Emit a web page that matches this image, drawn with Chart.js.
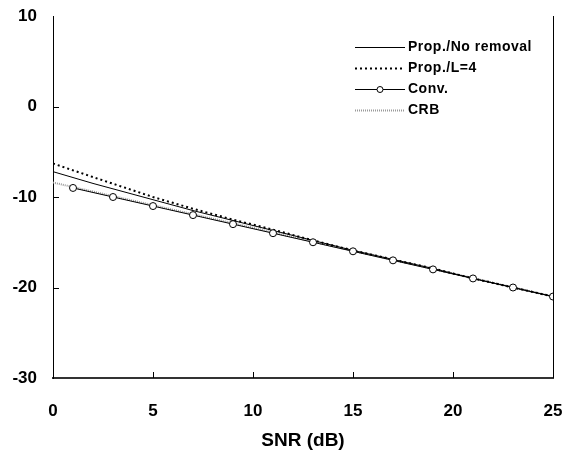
<!DOCTYPE html>
<html>
<head>
<meta charset="utf-8">
<script src="https://cdn.jsdelivr.net/npm/chart.js@4/dist/chart.umd.min.js"></script>
<style>
  html, body { margin: 0; padding: 0; background: #fff; }
  #wrap { width: 578px; height: 456px; }
</style>
</head>
<body>
<div id="wrap"><canvas id="grafico" width="578" height="456"></canvas></div>
<script>
// valores
var propX = [0, 2, 5, 7, 9, 11, 13, 15, 17, 19, 21, 23, 25];
var propNoRemoval = [-7.2, -8.5, -10.3, -11.5, -12.6, -13.7, -14.8, -15.9, -16.9, -17.9, -19.0, -20.0, -21.0];
var propL4 = [-6.3, -7.8, -10.0, -11.3, -12.5, -13.6, -14.8, -15.9, -16.9, -17.9, -19.0, -20.0, -21.0];
var convX = [1, 3, 5, 7, 9, 11, 13, 15, 17, 19, 21, 23, 25];
var conv = [-9, -10, -11, -12, -13, -14, -15, -16, -17, -18, -19, -20, -21];
var crbX = [0, 5, 10, 15, 20, 25];
var crb = [-8.4, -10.9, -13.4, -15.95, -18.45, -21.0];
var xTicks = [0, 5, 10, 15, 20, 25];
var yTicks = [10, 0, -10, -20, -30];

function pontos(xs, ys){
    return xs.map(function(x, i){ return {x: x, y: ys[i]} })
}

var fonte = '"Liberation Sans", Arial, sans-serif';

// ticks para dentro, borda direita e legenda
var extras = {
    id: 'extras',
    afterDraw: function(chart){
        var ctx = chart.ctx;
        var a = chart.chartArea;
        var sx = chart.scales.x, sy = chart.scales.y;
        ctx.save();
        ctx.strokeStyle = '#000';
        ctx.lineWidth = 1;
        ctx.beginPath();
        ctx.moveTo(a.right + 0.5, a.top);
        ctx.lineTo(a.right + 0.5, a.bottom);
        yTicks.forEach(function(v){
            if (v <= -30 || v >= 10) return;
            var py = Math.round(sy.getPixelForValue(v)) + 0.5;
            ctx.moveTo(a.left, py);
            ctx.lineTo(a.left + 6, py);
        });
        xTicks.forEach(function(v){
            if (v <= 0 || v >= 25) return;
            var px = Math.round(sx.getPixelForValue(v)) + 0.5;
            ctx.moveTo(px, a.bottom);
            ctx.lineTo(px, a.bottom - 6);
        });
        ctx.stroke();

        // legenda
        var linhas = [47, 68, 89, 110];
        var x0 = 355, x1 = 405;
        ctx.font = 'bold 14px ' + fonte;
        ctx.letterSpacing = '0.5px';
        ctx.fillStyle = '#000';
        ctx.textBaseline = 'middle';
        var ordem = [1, 2, 3, 0];
        ordem.forEach(function(di, i){
            var ds = chart.data.datasets[di];
            var y = linhas[i] + 0.5;
            ctx.save();
            ctx.strokeStyle = ds.borderColor;
            ctx.lineWidth = ds.borderWidth;
            ctx.setLineDash(ds.borderDash || []);
            ctx.beginPath();
            ctx.moveTo(x0, y);
            ctx.lineTo(x1, y);
            ctx.stroke();
            ctx.restore();
            if (ds.pointRadius > 0) {
                ctx.beginPath();
                ctx.arc((x0 + x1) / 2, y, 3, 0, Math.PI * 2);
                ctx.fillStyle = '#fff';
                ctx.fill();
                ctx.strokeStyle = '#000';
                ctx.lineWidth = 1;
                ctx.stroke();
                ctx.fillStyle = '#000';
            }
            ctx.fillText(ds.label, x1 + 3, linhas[i]);
        });
        ctx.restore();
    }
};

var grafico = document.getElementById('grafico').getContext('2d');
var chart = new Chart(grafico, {
    type: 'line',
    data: {
        datasets: [{
            label: 'CRB',
            data: pontos(crbX, crb),
            borderColor: '#9a9a9a',
            borderWidth: 2,
            borderDash: [1, 1],
            pointRadius: 0,
            order: 4
        }, {
            label: 'Prop./No removal',
            data: pontos(propX, propNoRemoval),
            borderColor: '#000',
            borderWidth: 1,
            pointRadius: 0,
            order: 2
        }, {
            label: 'Prop./L=4',
            data: pontos(propX, propL4),
            borderColor: '#000',
            borderWidth: 2,
            borderDash: [2, 3],
            pointRadius: 0,
            order: 3
        }, {
            label: 'Conv.',
            data: pontos(convX, conv),
            borderColor: '#000',
            borderWidth: 1,
            pointRadius: 3.5,
            pointBackgroundColor: '#fff',
            pointBorderColor: '#000',
            pointBorderWidth: 1,
            order: 1
        }]
    },
    options: {
        responsive: false,
        animation: false,
        layout: { padding: { top: 16, right: 25, left: 0, bottom: 0 } },
        plugins: {
            legend: { display: false },
            tooltip: { enabled: false }
        },
        scales: {
            x: {
                type: 'linear',
                min: 0, max: 25,
                afterBuildTicks: function(s){ s.ticks = xTicks.map(function(v){ return {value: v} }) },
                afterFit: function(s){ s.height = 78; s.paddingLeft = 0; s.paddingRight = 0 },
                grid: { display: false, drawTicks: false },
                border: { display: true, color: '#333', width: 2 },
                ticks: { color: '#000', padding: 23, font: { family: fonte, size: 17, weight: 'bold' } },
                title: { display: true, text: 'SNR (dB)', color: '#000', padding: { top: 4 }, font: { family: fonte, size: 19, weight: 'bold' } }
            },
            y: {
                min: -30, max: 10,
                afterBuildTicks: function(s){ s.ticks = yTicks.map(function(v){ return {value: v} }) },
                afterFit: function(s){ s.width = 53; s.paddingTop = 0; s.paddingBottom = 0 },
                grid: { display: false, drawTicks: false },
                border: { display: true, color: '#000', width: 1 },
                ticks: { color: '#000', padding: 16, font: { family: fonte, size: 17, weight: 'bold' } }
            }
        }
    },
    plugins: [extras]
});
</script>
</body>
</html>
